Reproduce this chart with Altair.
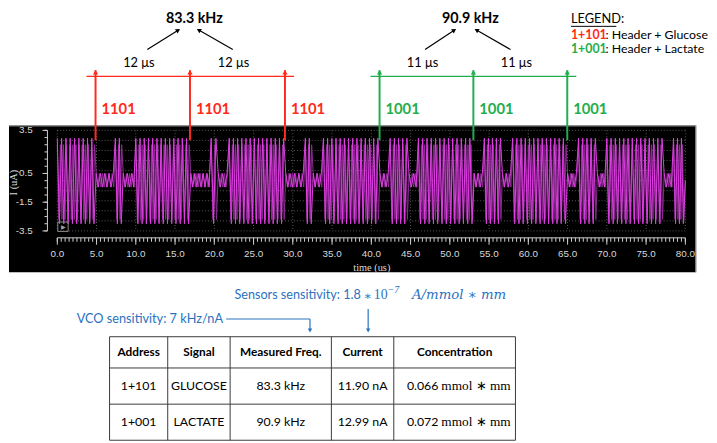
import math
import altair as alt
import pandas as pd

# ---------------- values ----------------
# oscilloscope trace: start time (us) of each burst segment and its level
seg_start = [0.0, 4.95, 7.4, 8.4, 10.0, 17.0, 19.6, 20.5, 21.9, 29.1, 31.6, 32.6,
             33.9, 41.1, 42.4, 44.8, 46.0, 53.1, 54.4, 56.7, 58.0, 65.0, 66.4, 68.8,
             70.0, 77.3, 78.5]
seg_level = ["high", "low"] * 13 + ["high"]
t_end = 80.0
high_swing = [2.95, -3.0]      # uA peaks of the bright trace inside a burst
high_swing_dim = [2.5, -2.7]   # uA peaks of the dimmer overlapping trace
low_swing = [0.5, -0.45]       # uA ripple between bursts
carrier_half_period = 0.27     # us
dim_half_period = 0.2          # us

y_tick_values = [3.5, 0.5, -1.5, -3.5]
x_tick_values = [0, 5, 10, 15, 20, 25, 30, 35, 40, 45, 50, 55, 60, 65, 70, 75, 80]

glucose_times = [4.87, 16.9, 29.0]
lactate_times = [41.05, 53.0, 64.96]
glucose_code = "1101"
lactate_code = "1001"
glucose_gap = "12 μs"
lactate_gap = "11 μs"
glucose_freq = "83.3 kHz"
lactate_freq = "90.9 kHz"

legend_title = "LEGEND:"
legend_codes = ["1+101", "1+001"]
legend_texts = [": Header + Glucose", ": Header + Lactate"]

vco_text = "VCO sensitivity: 7 kHz/nA"
sens_text = "Sensors sensitivity: 1.8"
sens_math = ["∗", "10", "−7", "A/mmol ∗ mm"]

table_header = ["Address", "Signal", "Measured Freq.", "Current", "Concentration"]
table_address = ["1+101", "1+001"]
table_signal = ["GLUCOSE", "LACTATE"]
table_freq = ["83.3 kHz", "90.9 kHz"]
table_current = ["11.90 nA", "12.99 nA"]
table_conc = ["0.066", "0.072"]
table_conc_unit = "mmol ∗ mm"

# ---------------- layout (page pixels) ----------------
OX, OY = 57.0, 128.0          # plot origin on the page
W, H = 637, 102
def P(x): return x - OX
def Q(y): return y - OY

RED = "#ff2a1a"
GREEN = "#1fae4c"
BLUE = "#2a72bf"
MAG = "#e23ee6"
MAG_DIM = "#8a2c90"
AX = "#d0d0d0"
SANS = "Lato"
SERIF = "Liberation Serif"
MATH = "DejaVu Serif"
SCOPE = "Liberation Sans"

xs = alt.Scale(domain=[0, 80], nice=False, zero=False)
ys = alt.Scale(domain=[-3.5, 3.5], nice=False, zero=False)
one = pd.DataFrame({"a": [0]})

def PX(f="x"):
    return alt.X(f + ":Q", scale=None, axis=None)
def PY(f="y"):
    return alt.Y(f + ":Q", scale=None, axis=None)
def TX(f="t"):
    return alt.X(f + ":Q", scale=xs, axis=None)
def VY(f="v"):
    return alt.Y(f + ":Q", scale=ys, axis=None)

def segs(rows, color, width=1.0):
    df = pd.DataFrame(rows, columns=["x", "y", "x2", "y2"])
    return alt.Chart(df).mark_rule(color=color, strokeWidth=width).encode(
        x=PX("x"), y=PY("y"), x2=alt.X2("x2:Q"), y2=alt.Y2("y2:Q"))

def texts(rows, **kw):
    df = pd.DataFrame(rows, columns=["x", "y", "text"])
    return alt.Chart(df).mark_text(**kw).encode(x=PX("x"), y=PY("y"), text="text:N")

layers = []

# background defines the canvas bounds
layers.append(alt.Chart(one).mark_rect(color="white").encode(
    x=alt.value(P(8)), x2=alt.value(P(717)), y=alt.value(Q(8)), y2=alt.value(Q(443))))
# black scope panel
layers.append(alt.Chart(one).mark_rect(color="black").encode(
    x=alt.value(P(8)), x2=alt.value(P(705)), y=alt.value(Q(123)), y2=alt.value(Q(272))))
layers.append(segs([[P(8), Q(123.5), P(705), Q(123.5)],
                    [P(704.5), Q(123), P(704.5), Q(272)]], "#9a9a9a", 1))

# dotted grid
grid_t = pd.DataFrame({"t": x_tick_values})
layers.append(alt.Chart(grid_t).mark_rule(color="#5a5a5a", strokeDash=[1, 2]).encode(
    x=TX(), y=alt.value(0), y2=alt.value(H)))
grid_v = pd.DataFrame({"v": [-3.5 + 0.7 * k for k in range(11)]})
layers.append(alt.Chart(grid_v).mark_rule(color="#5a5a5a", strokeDash=[1, 2]).encode(
    y=VY(), x=alt.value(0), x2=alt.value(W)))

# waveform (burst segments expanded at the carrier rate)
def trace(half_period, hi):
    wt, wi = [], []
    for k, s in enumerate(seg_start):
        e = seg_start[k + 1] if k + 1 < len(seg_start) else t_end
        sw = hi if seg_level[k] == "high" else low_swing
        n = max(2, round((e - s) / half_period))
        for j in range(n):
            wt.append(s + j * (e - s) / n)
            wi.append(sw[j % 2])
    wt.append(t_end)
    wi.append(0.0)
    return pd.DataFrame({"t": wt, "v": wi})

layers.append(alt.Chart(trace(dim_half_period, high_swing_dim)).mark_line(
    color=MAG_DIM, strokeWidth=1.0).encode(x=TX(), y=VY()))
layers.append(alt.Chart(trace(carrier_half_period, high_swing)).mark_line(
    color=MAG, strokeWidth=1.0).encode(x=TX(), y=VY()))

# x axis drawn by hand
layers.append(alt.Chart(pd.DataFrame({"t": [0], "t2": [80]})).mark_rule(color=AX).encode(
    x=TX(), x2="t2:Q", y=alt.value(H + 7)))
layers.append(alt.Chart(grid_t).mark_rule(color=AX).encode(
    x=TX(), y=alt.value(H + 7), y2=alt.value(H + 14)))
minor_t = pd.DataFrame({"t": [k * 0.5 for k in range(161)]})
layers.append(alt.Chart(minor_t).mark_rule(color=AX).encode(
    x=TX(), y=alt.value(H + 7), y2=alt.value(H + 11)))
xlab = pd.DataFrame({"t": x_tick_values, "lab": [f"{v:.1f}" for v in x_tick_values]})
layers.append(alt.Chart(xlab).mark_text(font=SCOPE, fontSize=10, color="#d8d8d8").encode(
    x=TX(), y=alt.value(Q(253.5)), text="lab:N"))

# y axis drawn by hand
layers.append(alt.Chart(one).mark_rule(color=AX).encode(
    x=alt.value(-10), y=alt.value(0), y2=alt.value(H)))
ymaj = pd.DataFrame({"v": y_tick_values, "lab": [f"{v:.1f}" for v in y_tick_values]})
layers.append(alt.Chart(ymaj).mark_rule(color=AX).encode(
    y=VY(), x=alt.value(-15), x2=alt.value(-10)))
minor_v = pd.DataFrame({"v": [-3.5 + 0.5 * k for k in range(15)]})
layers.append(alt.Chart(minor_v).mark_rule(color=AX).encode(
    y=VY(), x=alt.value(-13), x2=alt.value(-10)))
layers.append(alt.Chart(ymaj).mark_text(font=SCOPE, fontSize=10, color="#d8d8d8",
                                        align="right").encode(
    y=VY(), x=alt.value(P(32)), text="lab:N"))

# play icon
layers.append(alt.Chart(one).mark_rect(fillOpacity=0, stroke="#8a8a8a", strokeWidth=1).encode(
    x=alt.value(P(57.5)), x2=alt.value(P(68)), y=alt.value(Q(221)), y2=alt.value(Q(230.5))))
layers.append(texts([[P(63), Q(226), "▶"]], color="#a0a0a0", fontSize=6))

# axis titles
layers.append(texts([[P(13.3), Q(181), "I (uA)"]], angle=270, font=SERIF,
                    fontSize=10.5, color="#d8d8d8"))
layers.append(texts([[P(376), Q(268), "time (us)"]], font=SERIF, fontSize=10.5,
                    color="#d8d8d8"))

# ---------------- frame markers above the trace ----------------
for times, col, code, gap, freq, fdx in [
        (glucose_times, RED, glucose_code, glucose_gap, glucose_freq, 4.5),
        (lactate_times, GREEN, lactate_code, lactate_gap, lactate_freq, -3)]:
    mk = pd.DataFrame({"t": times, "code": [code] * len(times)})
    layers.append(alt.Chart(mk).mark_rule(color=col, strokeWidth=2).encode(
        x=TX(), y=alt.value(Q(67)), y2=alt.value(Q(138))))
    layers.append(alt.Chart(mk).mark_point(shape="triangle-up", filled=True, opacity=1,
                                           color=col, size=28).encode(
        x=TX(), y=alt.value(Q(69))))
    layers.append(alt.Chart(mk).mark_text(color=col, font=SANS, fontWeight="bold",
                                          fontSize=15, align="left", dx=6).encode(
        x=TX(), y=alt.value(Q(106)), text="code:N"))
    span = pd.DataFrame({"t": [times[0] - 1.15], "t2": [times[-1] + 1.15]})
    layers.append(alt.Chart(span).mark_rule(color=col, strokeWidth=1.2).encode(
        x=TX(), x2="t2:Q", y=alt.value(Q(73.3))))
    mids = pd.DataFrame({"t": [(a + b) / 2 for a, b in zip(times[:-1], times[1:])],
                         "lab": [gap] * (len(times) - 1)})
    layers.append(alt.Chart(mids).mark_text(color="black", font=SANS, fontSize=13,
                                            dx=-4).encode(
        x=TX(), y=alt.value(Q(60)), text="lab:N"))
    fq = pd.DataFrame({"t": [times[1]], "lab": [freq]})
    layers.append(alt.Chart(fq).mark_text(color="black", font=SANS, fontSize=14.5,
                                          fontWeight="bold", dx=fdx).encode(
        x=TX(), y=alt.value(Q(15)), text="lab:N"))

# black arrows toward the frequencies
arrows = [((148.3, 46), (181.7, 25)), ((235, 46), (198.3, 25)),
          ((430, 46), (461.7, 25)), ((516.7, 46), (480, 25))]
rows, heads = [], []
for (x1, y1), (x2, y2) in arrows:
    L = math.hypot(x2 - x1, y2 - y1)
    ux, uy = (x2 - x1) / L, (y2 - y1) / L
    rows.append([P(x1), Q(y1), P(x2 - 3 * ux), Q(y2 - 3 * uy)])
    ang = math.degrees(math.atan2(ux, -uy)) % 360
    heads.append([P(x2 - 2.5 * ux), Q(y2 - 2.5 * uy), ang])
layers.append(segs(rows, "black", 1.2))
hd = pd.DataFrame(heads, columns=["x", "y", "a"])
layers.append(alt.Chart(hd).mark_point(shape="triangle-up", filled=True, opacity=1,
                                       color="black", size=26).encode(
    x=PX(), y=PY(), angle=alt.Angle("a:Q", scale=None)))

# legend
layers.append(texts([[P(578), Q(15.5), legend_title]], font=SANS, fontSize=13,
                    align="left", color="black"))
layers.append(segs([[P(578), Q(22.5), P(624), Q(22.5)]], "black", 1))
for k, (code, col) in enumerate(zip(legend_codes, [RED, GREEN])):
    yy = 31 + 15 * k
    layers.append(texts([[P(578), Q(yy), code]], font=SANS, fontSize=12.5,
                        fontWeight="bold", align="left", color=col))
    layers.append(texts([[P(613), Q(yy), legend_texts[k]]], font=SANS, fontSize=12.5,
                        align="left", color="black"))

# ---------------- sensitivities ----------------
layers.append(texts([[P(236.7), Q(295), sens_text]], font=SANS, fontSize=12.8,
                    align="left", color=BLUE))
layers.append(texts([[P(371.7), Q(296), sens_math[0]]], font=MATH, fontSize=12,
                    color=BLUE))
layers.append(texts([[P(378), Q(295), sens_math[1]]], font=SERIF, fontSize=14,
                    align="left", color=BLUE))
layers.append(texts([[P(392), Q(289.5), sens_math[2]]], font=SERIF, fontSize=10,
                    fontStyle="italic", align="left", color=BLUE))
layers.append(texts([[P(416.7), Q(295), sens_math[3]]], font=MATH, fontSize=13.5,
                    fontStyle="italic", align="left", color=BLUE))
layers.append(texts([[P(76.7), Q(319.3), vco_text]], font=SANS, fontSize=12.9,
                    align="left", color=BLUE))
layers.append(segs([[P(228.3), Q(319.3), P(313.3), Q(319.3)],
                    [P(313.3), Q(319.3), P(313.3), Q(330)],
                    [P(372.3), Q(309.3), P(372.3), Q(330)]], BLUE, 1.2))
bh = pd.DataFrame({"x": [P(313.3), P(372.3)], "y": [Q(331), Q(331)]})
layers.append(alt.Chart(bh).mark_point(shape="triangle-down", filled=True, opacity=1,
                                       color=BLUE, size=20).encode(x=PX(), y=PY()))

# ---------------- table ----------------
col_b = [110, 169, 232.3, 335, 398.3, 521.7]
row_b = [337.3, 369, 405.7, 442.3]
grid_rows = [[P(col_b[0]), Q(y), P(col_b[-1]), Q(y)] for y in row_b]
grid_rows += [[P(x), Q(row_b[0]), P(x), Q(row_b[-1])] for x in col_b]
layers.append(segs(grid_rows, "#3a3a3a", 1))
centers = [(a + b) / 2 for a, b in zip(col_b[:-1], col_b[1:])]
row_c = [(a + b) / 2 for a, b in zip(row_b[:-1], row_b[1:])]
layers.append(texts([[P(cx), Q(row_c[0]), h] for cx, h in zip(centers, table_header)],
                    font=SANS, fontSize=12, fontWeight="bold", color="black"))
cells = []
for r in range(2):
    vals = [table_address[r], table_signal[r], table_freq[r], table_current[r]]
    for c in range(4):
        cells.append([P(centers[c]), Q(row_c[r + 1]), vals[c]])
layers.append(texts(cells, font=SANS, fontSize=12.5, color="black"))
layers.append(texts([[P(443.5), Q(row_c[r + 1]), table_conc[r]] for r in range(2)],
                    font=SANS, fontSize=12.5, align="right", color="black"))
layers.append(texts([[P(446.5), Q(row_c[r + 1]), table_conc_unit] for r in range(2)],
                    font=SERIF, fontSize=13.5, align="left", color="black"))

chart = alt.layer(*layers).properties(width=W, height=H, padding=0).configure_view(stroke=None)
chart.save("out.html", embed_options={"renderer": "svg", "actions": False})
